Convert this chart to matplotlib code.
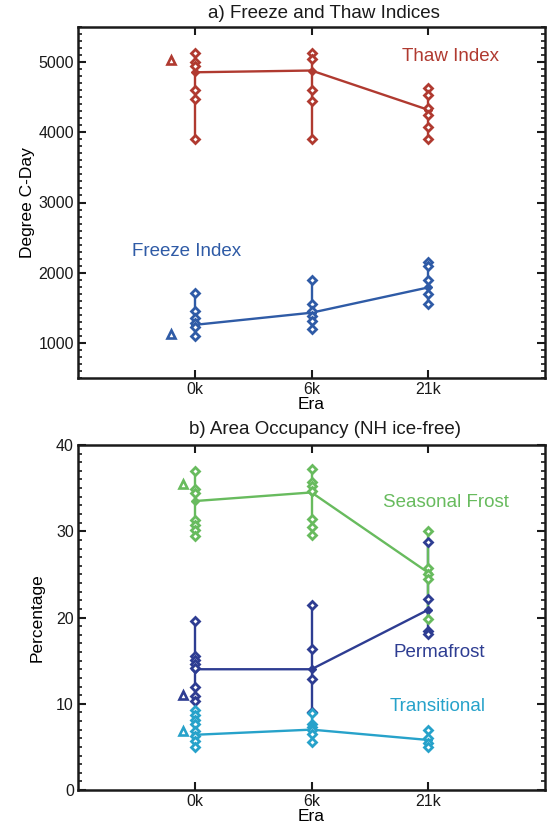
import matplotlib
matplotlib.use("Agg")
import matplotlib.pyplot as plt
from matplotlib.ticker import MultipleLocator

plt.rcParams['font.family'] = ['Liberation Sans', 'DejaVu Sans']

eras = ["0k", "6k", "21k"]

# ---- panel a data (Degree C-Day) ----
thaw_0k = [5130, 5000, 4940, 4600, 4470, 3910]
thaw_6k = [5130, 5040, 4600, 4440, 3900]
thaw_21k = [4630, 4530, 4340, 4250, 4070, 3900]
thaw_mean = [4855, 4880, 4320]
thaw_tri = 5030

freeze_0k = [1710, 1460, 1360, 1290, 1220, 1100]
freeze_6k = [1890, 1550, 1450, 1380, 1310, 1200]
freeze_21k = [2150, 2100, 1890, 1700, 1560]
freeze_mean = [1257, 1430, 1790]
freeze_tri = 1129

# ---- panel b data (Percentage) ----
seasonal_0k = [37.0, 34.9, 34.4, 31.3, 30.7, 30.1, 29.5]
seasonal_6k = [37.2, 35.7, 35.2, 34.7, 31.4, 30.5, 29.6]
seasonal_21k = [30.0, 25.7, 25.1, 24.5, 19.8]
seasonal_mean = [33.5, 34.5, 25.2]
seasonal_tri = 35.5

perma_0k = [19.6, 15.5, 15.1, 14.6, 14.2, 12.0, 10.9, 10.3]
perma_6k = [21.4, 16.3, 12.9, 9.0]
perma_21k = [28.8, 22.2, 18.4, 18.1]
perma_mean = [14.0, 14.0, 20.9]
perma_tri = 11.0

trans_0k = [9.3, 8.7, 8.1, 7.6, 6.8, 6.3, 5.7, 5.0]
trans_6k = [8.9, 7.7, 7.3, 6.9, 6.5, 5.6]
trans_21k = [7.0, 6.0, 5.4, 5.0]
trans_mean = [6.4, 7.0, 5.8]
trans_tri = 6.8

RED = "#B03A30"
BLUE = "#2F5BA6"
GREEN = "#68BB5E"
NAVY = "#2E3D92"
CYAN = "#27A2CA"

xpos = [1, 2, 3]

fig = plt.figure(figsize=(5.47, 8.31), dpi=100)
axa = fig.add_axes([78/547, 1-378/831, 467/547, 351/831])
axb = fig.add_axes([78/547, 1-790/831, 467/547, 345/831])


def vlines(ax, cols, color):
    for x, vals in zip(xpos, cols):
        ax.plot([x, x], [min(vals), max(vals)], color=color, lw=1.7,
                solid_capstyle='butt', zorder=2)


def markers(ax, cols, mean, color):
    ax.plot(xpos, mean, color=color, lw=1.7, zorder=3,
            marker='D', ms=4.0, mfc=color, mec=color)
    for x, vals in zip(xpos, cols):
        ax.plot([x]*len(vals), vals, linestyle='none', marker='D', ms=3.9,
                mfc='white', mec=color, mew=2.0, zorder=4)


def tri(ax, x, y, color):
    ax.plot([x], [y], linestyle='none', marker='^', ms=5.5, mfc='white',
            mec=color, mew=1.9, zorder=4)


def style(ax, ylim, major, minor):
    ax.set_xlim(0, 4)
    ax.set_ylim(*ylim)
    ax.set_xticks(xpos)
    ax.set_xticklabels(eras)
    ax.yaxis.set_major_locator(MultipleLocator(major))
    ax.yaxis.set_minor_locator(MultipleLocator(minor))
    ax.tick_params(axis='both', which='major', direction='in', top=True,
                   right=True, length=6, width=1.5, labelsize=11.5, pad=3,
                   colors='#1a1a1a')
    ax.tick_params(axis='y', which='minor', direction='in', right=True,
                   left=True, length=3, width=1.2, colors='#1a1a1a')
    ax.tick_params(axis='x', which='minor', bottom=False, top=False)
    for s in ax.spines.values():
        s.set_linewidth(1.8)
        s.set_color('#1a1a1a')
    ax.set_xlabel("Era", fontsize=12.5, labelpad=0)


# panel a
vlines(axa, [thaw_0k, thaw_6k, thaw_21k], RED)
vlines(axa, [freeze_0k, freeze_6k, freeze_21k], BLUE)
markers(axa, [thaw_0k, thaw_6k, thaw_21k], thaw_mean, RED)
markers(axa, [freeze_0k, freeze_6k, freeze_21k], freeze_mean, BLUE)
tri(axa, 0.8, thaw_tri, RED)
tri(axa, 0.8, freeze_tri, BLUE)
style(axa, (500, 5500), 1000, 100)
axa.set_ylabel("Degree C-Day", fontsize=12.5, labelpad=2)
axa.text(3.19, 5080, "Thaw Index", color=RED, fontsize=13.5, ha='center', va='center')
axa.text(0.93, 2296, "Freeze Index", color=BLUE, fontsize=13.5, ha='center', va='center')
fig.text(324/547, 1-13/831, "a) Freeze and Thaw Indices", fontsize=13.5,
         ha='center', va='center', color='#1a1a1a')

# panel b
vlines(axb, [perma_0k, perma_6k, perma_21k], NAVY)
vlines(axb, [seasonal_0k, seasonal_6k, seasonal_21k], GREEN)
vlines(axb, [trans_0k, trans_6k, trans_21k], CYAN)
markers(axb, [perma_0k, perma_6k, perma_21k], perma_mean, NAVY)
markers(axb, [seasonal_0k, seasonal_6k, seasonal_21k], seasonal_mean, GREEN)
markers(axb, [trans_0k, trans_6k, trans_21k], trans_mean, CYAN)
tri(axb, 0.9, seasonal_tri, GREEN)
tri(axb, 0.9, perma_tri, NAVY)
tri(axb, 0.9, trans_tri, CYAN)
style(axb, (0, 40), 10, 1)
axb.set_ylabel("Percentage", fontsize=12.5, labelpad=8)
axb.text(3.15, 33.3, "Seasonal Frost", color=GREEN, fontsize=13.5, ha='center', va='center')
axb.text(3.09, 15.9, "Permafrost", color=NAVY, fontsize=13.5, ha='center', va='center')
axb.text(3.08, 9.7, "Transitional", color=CYAN, fontsize=13.5, ha='center', va='center')
fig.text(325/547, 1-429/831, "b) Area Occupancy (NH ice-free)", fontsize=13.5,
         ha='center', va='center', color='#1a1a1a')

fig.savefig("out.png", dpi=100)
